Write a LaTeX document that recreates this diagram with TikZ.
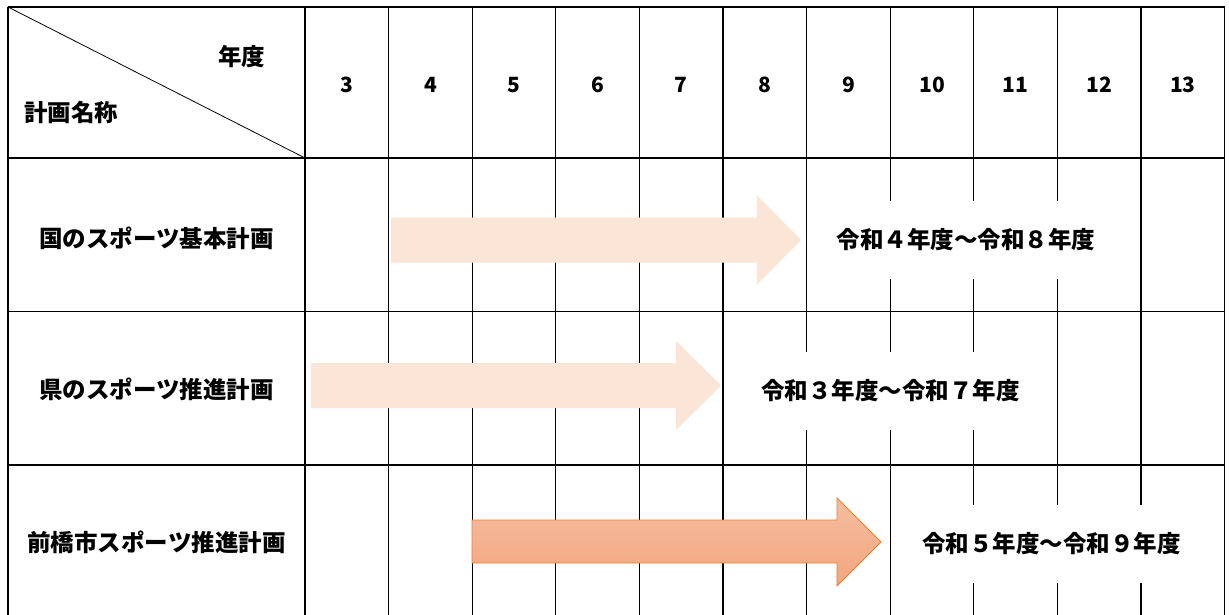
\documentclass[tikz,border=0pt]{standalone}
\usepackage{fontspec}
\newfontfamily\jp{Noto Sans CJK JP}
\definecolor{peach}{HTML}{FBE5D6}
\definecolor{orangetop}{HTML}{F5BDA0}
\definecolor{orangebot}{HTML}{F3A67E}
\definecolor{orangeline}{HTML}{ED7D31}
\begin{document}
\begin{tikzpicture}[x=1pt,y=-1pt,
  hline/.style={line width=1.8pt,black},
  vline/.style={line width=1.1pt,black},
  lbl/.style={font=\jp\bfseries\fontsize{23.5}{28}\selectfont, inner sep=0pt, text=black},
  yr/.style={font=\jp\bfseries\fontsize{21}{26}\selectfont, inner sep=0pt, text=black},
  span/.style={lbl, fill=white, minimum width=300pt, minimum height=78pt},
  lightarrow/.style={fill=peach, draw=none},
  strongarrow/.style={top color=orangetop, bottom color=orangebot, draw=orangeline, line width=0.8pt},
]
\useasboundingbox (0,0) rectangle (1229,615);
\clip (0,0) rectangle (1229,615);
% vertical lines
\draw[vline] (8,7) -- (8,625);
\draw[vline] (305,7) -- (305,625);
\foreach \k in {1,...,10} \draw[vline] ({305+83.6*\k},7) -- ({305+83.6*\k},625);
\draw[vline] (1224.6,7) -- (1224.6,625);
% horizontal lines
\foreach \yy in {7,158,311.5,465} \draw[hline] (7.5,\yy) -- (1225,\yy);
% diagonal
\draw[line width=0.8pt] (8,7) -- (305,158);
% header
\node[lbl] (nendo) at (241.5,57) {年度};
\node[lbl] (keikaku) at (71,112) {計画名称};
\foreach \i [count=\k from 0] in {3,...,13}
  \node[yr] (y\i) at ({305+83.6*\k+41.8},85) {\i};
% row labels
\node[lbl] (r1) at (156.5,238) {国のスポーツ基本計画};
\node[lbl] (r2) at (156.5,389.5) {県のスポーツ推進計画};
\node[lbl] (r3) at (156.5,542) {前橋市スポーツ推進計画};
% arrows
\path[lightarrow] (391,217.5) -- (756.5,217.5) -- (756.5,195) -- (801,240) -- (756.5,285) -- (756.5,262.5) -- (391,262.5) -- cycle;
\path[lightarrow] (311,363) -- (676,363) -- (676,341) -- (721,385.5) -- (676,430) -- (676,408) -- (311,408) -- cycle;
\draw[strongarrow] (472,520) -- (837,520) -- (837,498) -- (881,542) -- (837,586) -- (837,563) -- (472,563) -- cycle;
% period labels
\node[span] (p1) at (966,240) {令和４年度～令和８年度};
\node[span] (p2) at (890.5,391) {令和３年度～令和７年度};
\node[span] (p3) at (1051.5,544) {令和５年度～令和９年度};
\end{tikzpicture}
\end{document}
